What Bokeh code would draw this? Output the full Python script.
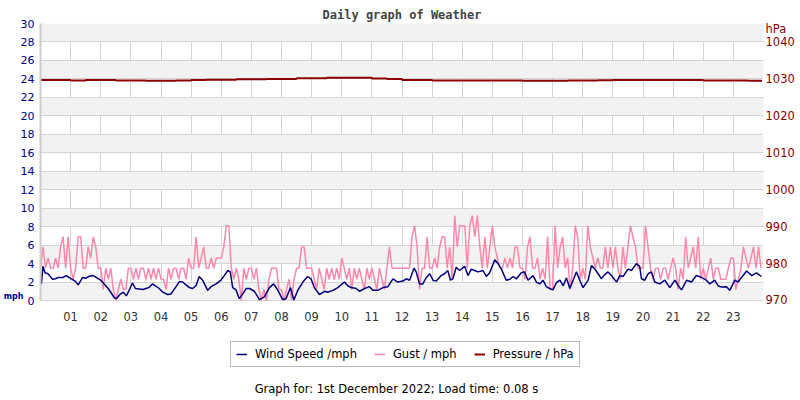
from bokeh.plotting import figure
from bokeh.models import Range1d, LinearAxis, FixedTicker, Legend, LegendItem, Label
from bokeh.embed import file_html
from bokeh.resources import INLINE

# ---- data (1st December 2022) ----
hour_ticks = list(range(1, 24))
hour_labels = ["%02d" % h for h in hour_ticks]
mph_ticks = list(range(0, 31, 2))
hpa_ticks = [970, 980, 990, 1000, 1010, 1020, 1030, 1040]

wind_hours = [
    0.0, 0.03, 0.08, 0.15, 0.25, 0.4, 0.5, 0.6, 0.75, 0.85,
    1.0, 1.15, 1.25, 1.4, 1.5, 1.6, 1.75, 1.9, 2.0, 2.25,
    2.45, 2.52, 2.65, 2.75, 2.85, 2.97, 3.05, 3.15, 3.4, 3.6,
    3.72, 3.94, 4.06, 4.22, 4.33, 4.5, 4.61, 4.72, 4.83, 4.94,
    5.05, 5.16, 5.27, 5.38, 5.55, 5.66, 5.83, 5.99, 6.1, 6.22,
    6.3, 6.38, 6.49, 6.6, 6.71, 6.83, 6.94, 7.1, 7.27, 7.43,
    7.6, 7.74, 7.88, 8.04, 8.15, 8.3, 8.41, 8.54, 8.71, 8.87,
    8.98, 9.09, 9.26, 9.43, 9.53, 9.7, 9.87, 10.09, 10.2, 10.31,
    10.48, 10.59, 10.76, 10.92, 11.03, 11.2, 11.37, 11.53, 11.7, 11.86,
    12.03, 12.14, 12.25, 12.4, 12.47, 12.58, 12.69, 12.81, 12.92, 13.03,
    13.14, 13.3, 13.41, 13.52, 13.61, 13.69, 13.8, 13.91, 14.08, 14.19,
    14.3, 14.41, 14.52, 14.69, 14.8, 14.91, 15.08, 15.19, 15.3, 15.46,
    15.58, 15.69, 15.8, 15.96, 16.07, 16.18, 16.35, 16.46, 16.57, 16.68,
    16.79, 16.9, 17.01, 17.12, 17.24, 17.35, 17.46, 17.57, 17.68, 17.79,
    17.9, 18.01, 18.18, 18.29, 18.4, 18.51, 18.62, 18.73, 18.84, 18.95,
    19.12, 19.23, 19.34, 19.5, 19.62, 19.78, 19.89, 19.95, 20.06, 20.17,
    20.28, 20.39, 20.56, 20.72, 20.89, 21.06, 21.17, 21.28, 21.45, 21.61,
    21.77, 21.94, 22.1, 22.22, 22.38, 22.49, 22.61, 22.77, 22.88, 23.05,
    23.16, 23.27, 23.44, 23.61, 23.77, 23.93,
]
wind_mph = [
    2.3, 1.8, 3.7, 3.0, 2.9, 2.3, 2.35, 2.5, 2.5, 2.7,
    2.4, 2.1, 1.7, 2.5, 2.4, 2.6, 2.7, 2.4, 2.2, 1.3,
    0.3, 0.2, 0.7, 0.9, 0.5, 1.3, 1.9, 1.3, 1.2, 1.4,
    1.8, 1.3, 0.9, 0.65, 0.7, 1.5, 2.05, 2.0, 1.7, 1.4,
    1.3, 1.6, 2.6, 2.2, 1.1, 1.5, 1.8, 2.2, 2.7, 3.25,
    3.1, 1.4, 1.15, 0.2, 0.7, 1.3, 1.3, 1.0, 0.1, 0.4,
    1.4, 1.8, 1.1, 0.1, 0.2, 1.4, 0.05, 1.1, 2.0, 2.6,
    2.35, 1.4, 0.65, 1.0, 0.9, 1.1, 1.4, 2.0, 1.6, 1.4,
    1.3, 1.0, 1.3, 1.5, 1.1, 1.1, 1.4, 1.5, 2.35, 2.0,
    2.1, 2.35, 2.2, 3.5, 3.1, 1.8, 1.8, 2.5, 2.9, 2.2,
    2.1, 2.7, 2.9, 3.25, 2.2, 2.35, 3.6, 3.25, 3.7, 2.7,
    3.4, 3.25, 3.1, 3.25, 2.6, 3.0, 4.4, 4.0, 3.4, 2.2,
    2.3, 2.6, 2.35, 3.0, 3.1, 2.2, 2.7, 2.0, 1.8, 2.2,
    1.5, 1.3, 1.15, 1.9, 2.2, 1.6, 2.45, 1.3, 2.2, 3.1,
    2.2, 1.4, 2.2, 3.8, 3.4, 2.9, 2.35, 2.8, 3.1, 2.7,
    2.0, 2.7, 2.6, 3.4, 3.25, 4.0, 3.7, 2.35, 2.2, 2.9,
    3.1, 2.0, 1.8, 2.2, 1.4, 2.2, 1.6, 1.15, 2.2, 2.0,
    2.7, 2.5, 2.2, 1.8, 2.2, 1.6, 1.45, 1.5, 1.1, 2.2,
    2.0, 2.5, 3.2, 2.7, 3.0, 2.6,
]

# gust, every 5 minutes (mph)
gust_hours = [i / 12 for i in range(288)]
gust_mph = [
    3.5, 5.8, 3.5, 4.6, 3.5, 3.5, 4.6, 3.5, 5.8, 6.9, 3.5, 6.9,
    3.5, 2.3, 3.5, 6.9, 6.9, 3.5, 3.5, 5.8, 4.6, 6.9, 5.8, 3.5,
    3.5, 1.2, 3.5, 2.3, 3.5, 1.2, 0.0, 1.2, 2.3, 1.2, 1.2, 3.5,
    3.5, 2.3, 3.5, 2.3, 3.5, 3.5, 2.3, 3.5, 2.3, 3.5, 2.3, 3.5,
    2.3, 2.3, 1.2, 3.5, 2.3, 3.5, 3.5, 2.3, 3.5, 3.5, 2.3, 4.6,
    3.5, 3.5, 6.9, 3.5, 4.6, 5.8, 3.5, 3.5, 4.6, 3.5, 4.6, 4.6,
    4.6, 5.8, 8.1, 8.1, 3.5, 2.3, 3.5, 2.3, 0.0, 3.5, 2.3, 3.5,
    3.5, 2.3, 3.5, 1.2, 0.0, 1.2, 0.0, 2.3, 3.5, 3.5, 3.5, 1.2,
    1.2, 0.0, 1.2, 2.3, 0.0, 2.3, 3.5, 3.5, 5.8, 5.8, 3.5, 3.5,
    3.5, 2.3, 1.2, 3.5, 2.3, 1.2, 3.5, 2.3, 3.5, 2.3, 3.5, 2.3,
    4.6, 3.5, 2.3, 3.5, 1.2, 3.5, 2.3, 3.5, 2.3, 1.2, 3.5, 2.3,
    3.5, 2.3, 1.2, 3.5, 2.3, 1.2, 3.5, 5.8, 3.5, 3.5, 3.5, 3.5,
    3.5, 3.5, 3.5, 3.5, 6.9, 8.1, 5.8, 1.2, 3.5, 3.5, 6.9, 3.5,
    3.5, 4.6, 3.5, 5.8, 6.9, 6.9, 3.5, 5.8, 2.3, 9.2, 5.8, 8.1,
    8.1, 8.1, 3.5, 8.1, 9.2, 6.9, 9.2, 5.8, 3.5, 6.9, 3.5, 5.8,
    8.1, 5.8, 4.6, 3.5, 3.5, 4.6, 3.5, 4.6, 3.5, 5.8, 5.8, 3.5,
    3.5, 2.3, 5.8, 6.9, 3.5, 3.5, 4.6, 2.3, 3.5, 2.3, 6.9, 1.2,
    1.2, 8.1, 3.5, 5.8, 6.9, 3.5, 4.6, 1.2, 3.5, 8.1, 6.9, 2.3,
    3.5, 2.3, 8.1, 5.8, 4.6, 3.5, 4.6, 3.5, 3.5, 5.8, 3.5, 5.8,
    3.5, 5.8, 3.5, 2.3, 5.8, 3.5, 5.8, 8.1, 6.9, 5.8, 3.5, 3.5,
    3.5, 8.1, 5.8, 3.5, 2.3, 3.5, 3.5, 2.3, 3.5, 3.5, 2.3, 3.5,
    4.6, 3.5, 1.2, 3.5, 2.3, 6.9, 3.5, 4.6, 5.8, 3.5, 6.9, 2.3,
    3.5, 2.3, 3.5, 4.6, 2.3, 3.5, 3.5, 2.3, 2.3, 2.3, 3.5, 4.6,
    4.6, 1.2, 2.3, 3.5, 5.8, 4.6, 3.5, 4.6, 5.8, 3.5, 5.8, 3.5,
]

# pressure, every 30 minutes (hPa)
press_hours = [i * 0.5 for i in range(48)] + [23.95]
press_hpa = [
    1029.7, 1029.7, 1029.6, 1029.7, 1029.7, 1029.6, 1029.6, 1029.5,
    1029.5, 1029.6, 1029.7, 1029.8, 1029.8, 1029.9, 1029.9, 1030.0,
    1030.0, 1030.2, 1030.2, 1030.3, 1030.3, 1030.3, 1030.1, 1030.0,
    1029.7, 1029.7, 1029.6, 1029.6, 1029.6, 1029.6, 1029.6, 1029.6,
    1029.5, 1029.5, 1029.5, 1029.6, 1029.6, 1029.65, 1029.7, 1029.7,
    1029.7, 1029.7, 1029.7, 1029.7, 1029.6, 1029.6, 1029.6, 1029.5,
    1029.5,
]

# unit captions placed as axis tick labels
mph_caption_tick = [0.45]
hpa_caption_tick = [1043.5]
footer_text = "Graph for: 1st December 2022; Load time: 0.08 s"

WIND_C = "#000080"
GUST_C = "#ff88aa"
PRESS_C = "#8b0000"
FONT = "DejaVu Sans"


def plain_axis(ax, size, color, standoff):
    ax.axis_line_color = None
    ax.major_tick_line_color = None
    ax.minor_tick_line_color = None
    ax.major_tick_out = 0
    ax.major_tick_in = 0
    ax.minor_tick_out = 0
    ax.minor_tick_in = 0
    ax.major_label_text_font = FONT
    ax.major_label_text_font_size = size
    ax.major_label_text_color = color
    ax.major_label_standoff = standoff


# The frame runs down to the bottom of the page so that the legend and footer
# (drawn inside it) are visible; the data area itself is 0..30 mph.
p = figure(width=800, height=400, output_backend="svg", toolbar_location=None,
           x_range=Range1d(0, 24), y_range=Range1d(-10.83, 30),
           min_border_left=40, min_border_right=37, min_border_top=23,
           min_border_bottom=0, background_fill_color="white",
           border_fill_color="white", outline_line_color=None)
p.extra_y_ranges = {"hpa": Range1d(942.92, 1045)}

p.title.text = "Daily graph of Weather"
p.title.align = "center"
p.title.text_font = "DejaVu Sans Mono"
p.title.text_font_style = "bold"
p.title.text_font_size = "12px"
p.title.text_color = "#444444"
p.title.standoff = 3

# x axis, pinned at 0 mph
xax = p.xaxis[0]
xax.fixed_location = 0
xax.ticker = FixedTicker(ticks=hour_ticks)
xax.major_label_overrides = dict(zip(hour_ticks, hour_labels))
plain_axis(xax, "11.5px", "#333333", 11)

# left axis
yax = p.yaxis[0]
yax.bounds = (0, 30)
yax.ticker = FixedTicker(ticks=mph_ticks)
plain_axis(yax, "11px", WIND_C, 6)
yax.axis_line_color = "#cccccc"
yax.axis_line_width = 2

# "mph" caption (outer left axis, single tick)
ax_mph = LinearAxis(ticker=FixedTicker(ticks=mph_caption_tick),
                    major_label_overrides={mph_caption_tick[0]: "mph"})
plain_axis(ax_mph, "8px", WIND_C, -6)
ax_mph.major_label_text_font_style = "bold"
p.add_layout(ax_mph, "left")

# right axis (with "hPa" caption as top tick)
ax_r = LinearAxis(y_range_name="hpa",
                  ticker=FixedTicker(ticks=hpa_ticks + hpa_caption_tick),
                  major_label_overrides={hpa_caption_tick[0]: "hPa"})
plain_axis(ax_r, "11.5px", PRESS_C, 2)
p.add_layout(ax_r, "right")

# grids (limited to the 0..30 mph data area)
p.xgrid.grid_line_color = "#d4d4d4"
p.xgrid.cross_bounds = (0, 30)
p.ygrid.grid_line_color = "#d4d4d4"
p.ygrid.band_fill_color = "#f2f2f2"
p.ygrid.band_fill_alpha = 1.0

r_gust = p.line(gust_hours, gust_mph, line_color=GUST_C, line_width=1.5)
r_wind = p.line(wind_hours, wind_mph, line_color=WIND_C, line_width=1.5)
r_press = p.step(press_hours, press_hpa, mode="after", line_color=PRESS_C,
                 line_width=2, y_range_name="hpa")

legend = Legend(items=[LegendItem(label="Wind Speed /mph", renderers=[r_wind]),
                       LegendItem(label="Gust / mph", renderers=[r_gust]),
                       LegendItem(label="Pressure / hPa", renderers=[r_press])],
                orientation="horizontal", location=(190, 33),
                glyph_width=11, glyph_height=14, label_height=14,
                label_standoff=8, spacing=17,
                padding=5, margin=0, border_line_color="#777777",
                border_line_width=1, background_fill_color="white",
                background_fill_alpha=1.0, label_text_font=FONT,
                label_text_font_size="11.5px", label_text_color="#000000")
p.add_layout(legend)

p.add_layout(Label(x=356, y=12, x_units="screen", y_units="screen",
                   text=footer_text, text_align="center",
                   text_baseline="middle", text_font=FONT,
                   text_font_size="11.5px", text_color="#000000"))

open("out.html", "w").write(file_html(p, INLINE))
